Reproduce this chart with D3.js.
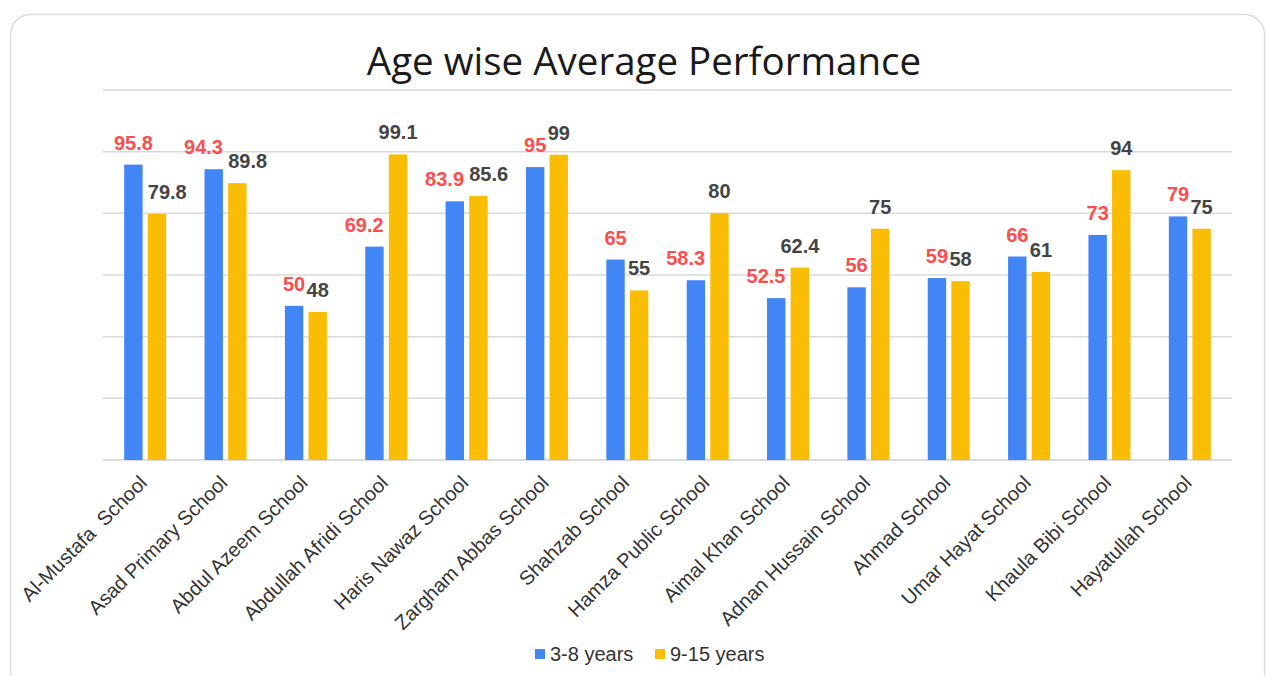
<!DOCTYPE html>
<html>
<head>
<meta charset="utf-8">
<title>Age wise Average Performance</title>
<script src="https://cdn.jsdelivr.net/npm/d3@7"></script>
<style>
  body { margin: 0; background: #fff; font-family: Arial, "Liberation Sans", sans-serif; }
  svg { display: block; }
</style>
</head>
<body>
<div id="chart"></div>
<script>
// data
var schools = ["Al-Mustafa  School", "Asad Primary School", "Abdul Azeem School", "Abdullah Afridi School",
  "Haris Nawaz School", "Zargham Abbas School", "Shahzab School", "Hamza Public School", "Aimal Khan School",
  "Adnan Hussain School", "Ahmad School", "Umar Hayat School", "Khaula Bibi School", "Hayatullah School"];
var series = ["3-8 years", "9-15 years"];
var young = [95.8, 94.3, 50, 69.2, 83.9, 95, 65, 58.3, 52.5, 56, 59, 66, 73, 79];
var older = [79.8, 89.8, 48, 99.1, 85.6, 99, 55, 80, 62.4, 75, 58, 61, 94, 75];
var yTicks = [0, 20, 40, 60, 80, 100, 120];

var colors = {"3-8 years": "#4285f4", "9-15 years": "#fbbc04"};
var labelColors = {"3-8 years": "#ff4d4d", "9-15 years": "#444"};

var W = 1267, H = 676;
var svg = d3.select("#chart").append("svg").attr("width", W).attr("height", H);

// card
svg.append("rect")
  .attr("x", 10.5).attr("y", 14.5).attr("width", 1254).attr("height", 680)
  .attr("rx", 20).attr("fill", "#fff").attr("stroke", "#dcdcdc").attr("stroke-width", 1.5);

svg.append("text")
  .attr("x", 644).attr("y", 75)
  .attr("text-anchor", "middle")
  .style("font-family", "'Open Sans', 'Noto Sans', sans-serif")
  .style("font-size", "38.5px")
  .attr("fill", "#1a1a1a")
  .text("Age wise Average Performance");

var plotL = 103, plotR = 1232, plotT = 90, plotB = 460;

var y = d3.scaleLinear().domain([0, 120]).range([plotB, plotT]);
var x0 = d3.scaleBand().domain(schools).range([105, 1230]);
var x1 = d3.scaleBand().domain(series).range([-21, 21]).paddingInner(0.22);

// gridlines
svg.append("g").selectAll("line").data(yTicks).join("line")
  .attr("x1", plotL).attr("x2", plotR)
  .attr("y1", d => y(d)).attr("y2", d => y(d))
  .attr("stroke", d => d == 0 ? "#cfcfcf" : "#dadada")
  .attr("stroke-width", 1.5);

var rows = schools.map(function(s, i) {
  return {school: s, vals: [{key: series[0], v: young[i]}, {key: series[1], v: older[i]}]};
});

var groups = svg.append("g").selectAll("g").data(rows).join("g")
  .attr("transform", d => "translate(" + (x0(d.school) + x0.bandwidth() / 2) + ",0)");

groups.selectAll("rect").data(d => d.vals).join("rect")
  .attr("x", d => x1(d.key))
  .attr("width", x1.bandwidth())
  .attr("y", d => y(d.v))
  .attr("height", d => y(0) - y(d.v))
  .attr("fill", d => colors[d.key]);

groups.selectAll("text.val").data(d => d.vals).join("text")
  .attr("class", "val")
  .attr("x", d => x1(d.key) + x1.bandwidth() / 2)
  .attr("y", d => y(d.v) - 15)
  .attr("text-anchor", "middle")
  .style("font-size", "20px")
  .style("font-weight", "bold")
  .attr("fill", d => labelColors[d.key])
  .text(d => d.v);

// nudge labels sideways when they run into the other bar or the other label
var capH = 14, pad = 3;
function hit(a, b) {
  return a.x0 < b.x1 && b.x0 < a.x1 && a.y0 < b.y1 && b.y0 < a.y1;
}
groups.each(function(d) {
  var texts = d3.select(this).selectAll("text.val").nodes();
  var boxes = d.vals.map(function(v, i) {
    var w = texts[i].getComputedTextLength();
    var cx = x1(v.key) + x1.bandwidth() / 2, base = y(v.v) - 15;
    return {x0: cx - w / 2, x1: cx + w / 2, y0: base - capH, y1: base};
  });
  var bars = d.vals.map(function(v) {
    return {x0: x1(v.key), x1: x1(v.key) + x1.bandwidth(), y0: y(v.v), y1: y(0)};
  });
  var both = hit(boxes[0], boxes[1]);
  d.vals.forEach(function(v, i) {
    var b = boxes[i];
    var grown = {x0: b.x0 - pad, x1: b.x1 + pad, y0: b.y0 - pad, y1: b.y1 + pad};
    if (both || hit(grown, bars[1 - i])) {
      if (i == 0) {
        d3.select(texts[i]).attr("text-anchor", "end").attr("x", bars[0].x1);
      } else {
        d3.select(texts[i]).attr("text-anchor", "start").attr("x", bars[1].x0);
      }
    }
  });
});

// rotated category labels
groups.append("text")
  .attr("transform", "translate(3,484) rotate(-45)")
  .attr("text-anchor", "end")
  .style("font-size", "20px")
  .style("white-space", "pre")
  .attr("fill", "#333")
  .text(d => d.school);

// legend
var legend = svg.append("g").attr("transform", "translate(535,649)");
var lx = [0, 120];
series.forEach(function(s, i) {
  var g = legend.append("g").attr("transform", "translate(" + lx[i] + ",0)");
  g.append("rect").attr("width", 10).attr("height", 10).attr("fill", colors[s]);
  g.append("text").attr("x", 15).attr("y", 12)
    .style("font-size", "20px").attr("fill", "#333").text(s);
});
</script>
</body>
</html>
